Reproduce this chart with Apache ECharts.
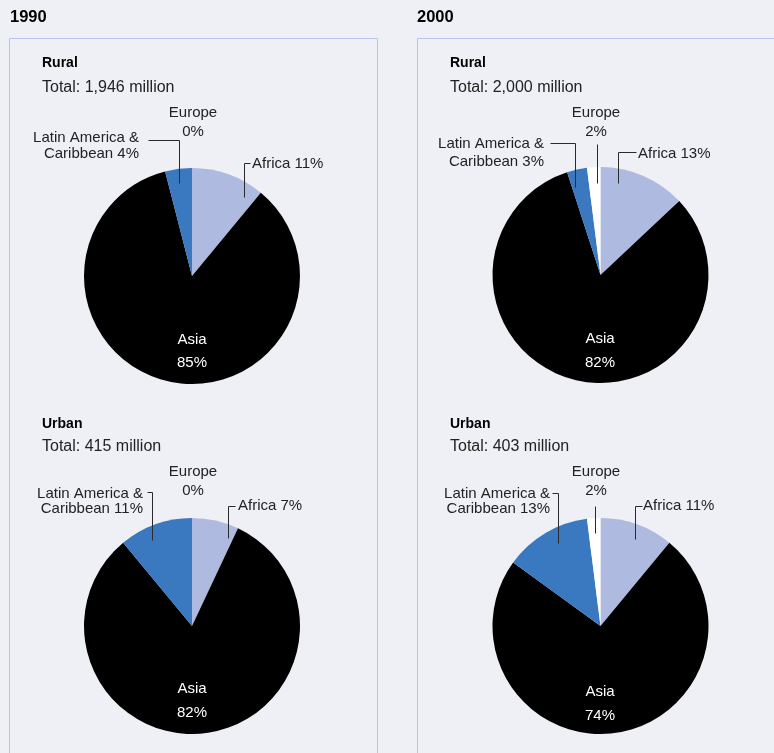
<!DOCTYPE html>
<html>
<head>
<meta charset="utf-8">
<script src="https://cdn.jsdelivr.net/npm/echarts@6/dist/echarts.min.js"></script>
<style>
  html, body { margin: 0; padding: 0; background: #eff0f6; }
  #chart { width: 774px; height: 753px; }
</style>
</head>
<body>
<div id="chart"></div>
<script>
// Regional shares (%) of the rural and urban population, 1990 and 2000
const regions = ['Africa', 'Asia', 'Latin America & Caribbean', 'Europe'];
const years = ['1990', '2000'];
const areas = ['Rural', 'Urban'];
const rural1990 = [11, 85, 4, 0];
const rural2000 = [13, 82, 3, 2];
const urban1990 = [7, 82, 11, 0];
const urban2000 = [11, 74, 13, 2];
const totalRural = [1946, 2000];   // million
const totalUrban = [415, 403];     // million

const FONT = '"Liberation Sans", Arial, sans-serif';
const sliceColors = ['#aebadf', '#000000', '#3a78bf', '#ffffff'];

// Label placement for each pie: [x, y, align, lineHeight, leader-line points or null]
const pies = [
  {
    values: rural1990, center: [192, 276],
    labels: [
      [252, 164, 'left', 17, [[250, 163], [244, 163], [244, 197]]],
      [192, 351.5, 'center', 23, null],
      [139, 146, 'right', 16, [[148, 140], [179, 140], [179, 183]]],
      [193, 122.5, 'center', 19, null]
    ]
  },
  {
    values: rural2000, center: [600.5, 275],
    labels: [
      [638, 154, 'left', 17, [[636, 152], [618, 152], [618, 183]]],
      [600, 351, 'center', 24, null],
      [544, 153, 'right', 18, [[550, 143], [575, 143], [575, 187]]],
      [596, 122.5, 'center', 19, [[597, 144], [597, 183]]]
    ]
  },
  {
    values: urban1990, center: [192, 626],
    labels: [
      [238, 506, 'left', 17, [[235, 506], [228, 506], [228, 538]]],
      [192, 701, 'center', 24, null],
      [143, 501.5, 'right', 15, [[147, 492], [152, 492], [152, 540]]],
      [193, 481.5, 'center', 19, null]
    ]
  },
  {
    values: urban2000, center: [600.5, 626],
    labels: [
      [643, 506, 'left', 17, [[642, 506], [635, 506], [635, 539]]],
      [600, 704, 'center', 24, null],
      [550, 501.5, 'right', 15, [[552, 493], [558, 493], [558, 543]]],
      [596, 481.5, 'center', 19, [[595, 506], [595, 533]]]
    ]
  }
];

function labelText(idx, v) {
  if (idx === 0) return 'Africa ' + v + '%';
  if (idx === 1) return 'Asia\n' + v + '%';
  if (idx === 2) return 'Latin America &\nCaribbean ' + v + '%';
  return 'Europe\n' + v + '%';
}

const series = pies.map(function (p) {
  return {
    type: 'pie',
    center: p.center,
    radius: 108,
    startAngle: 90,
    clockwise: true,
    avoidLabelOverlap: false,
    silent: true,
    animation: false,
    itemStyle: { borderWidth: 0 },
    label: {
      show: true,
      fontFamily: FONT,
      fontSize: 15,
      color: '#222222',
      formatter: function (params) { return labelText(params.dataIndex, params.value); }
    },
    labelLine: { show: false },
    labelLayout: function (params) {
      const l = p.labels[params.dataIndex];
      return { x: l[0], y: l[1], align: l[2], verticalAlign: 'middle' };
    },
    data: p.values.map(function (v, i) {
      const l = p.labels[i];
      return {
        name: regions[i],
        value: v,
        itemStyle: { color: sliceColors[i] },
        label: { lineHeight: l[3], align: l[2], color: i === 1 ? '#ffffff' : '#222222' }
      };
    })
  };
});

function fmt(n) { return n.toLocaleString('en-US'); }

const graphic = [
  // panel frames
  { type: 'rect', silent: true, shape: { x: 9.5, y: 38.5, width: 368, height: 760 },
    style: { fill: null, stroke: '#b8c4e8', lineWidth: 1 } },
  { type: 'rect', silent: true, shape: { x: 417.5, y: 38.5, width: 400, height: 760 },
    style: { fill: null, stroke: '#b8c4e8', lineWidth: 1 } }
];

// leader lines from the outside labels into their slices
pies.forEach(function (p) {
  p.labels.forEach(function (l) {
    if (!l[4]) return;
    graphic.push({
      type: 'polyline', silent: true, z: 100,
      shape: { points: l[4].map(function (pt) { return [pt[0] + 0.5, pt[1] + 0.5]; }) },
      style: { stroke: '#2a2a2a', lineWidth: 1, fill: null }
    });
  });
});

const headStyle = { fontFamily: FONT, fontWeight: 'bold', fontSize: 16.5, fill: '#000', textVerticalAlign: 'middle' };
const subStyle = { fontFamily: FONT, fontWeight: 'bold', fontSize: 14, fill: '#000', textVerticalAlign: 'middle' };
const totStyle = { fontFamily: FONT, fontSize: 16, fill: '#222222', textVerticalAlign: 'middle' };

const colX = [10, 417];
const innerX = [42, 450];
years.forEach(function (yr, c) {
  graphic.push({ type: 'text', silent: true, x: colX[c], y: 17,
    style: Object.assign({ text: yr }, headStyle) });
  graphic.push({ type: 'text', silent: true, x: innerX[c], y: 63,
    style: Object.assign({ text: areas[0] }, subStyle) });
  graphic.push({ type: 'text', silent: true, x: innerX[c], y: 88,
    style: Object.assign({ text: 'Total: ' + fmt(totalRural[c]) + ' million' }, totStyle) });
  graphic.push({ type: 'text', silent: true, x: innerX[c], y: 424,
    style: Object.assign({ text: areas[1] }, subStyle) });
  graphic.push({ type: 'text', silent: true, x: innerX[c], y: 447,
    style: Object.assign({ text: 'Total: ' + fmt(totalUrban[c]) + ' million' }, totStyle) });
});

const chart = echarts.init(document.getElementById('chart'), null, { renderer: 'canvas' });
chart.setOption({
  backgroundColor: '#eff0f6',
  animation: false,
  graphic: graphic,
  series: series
});
</script>
</body>
</html>
